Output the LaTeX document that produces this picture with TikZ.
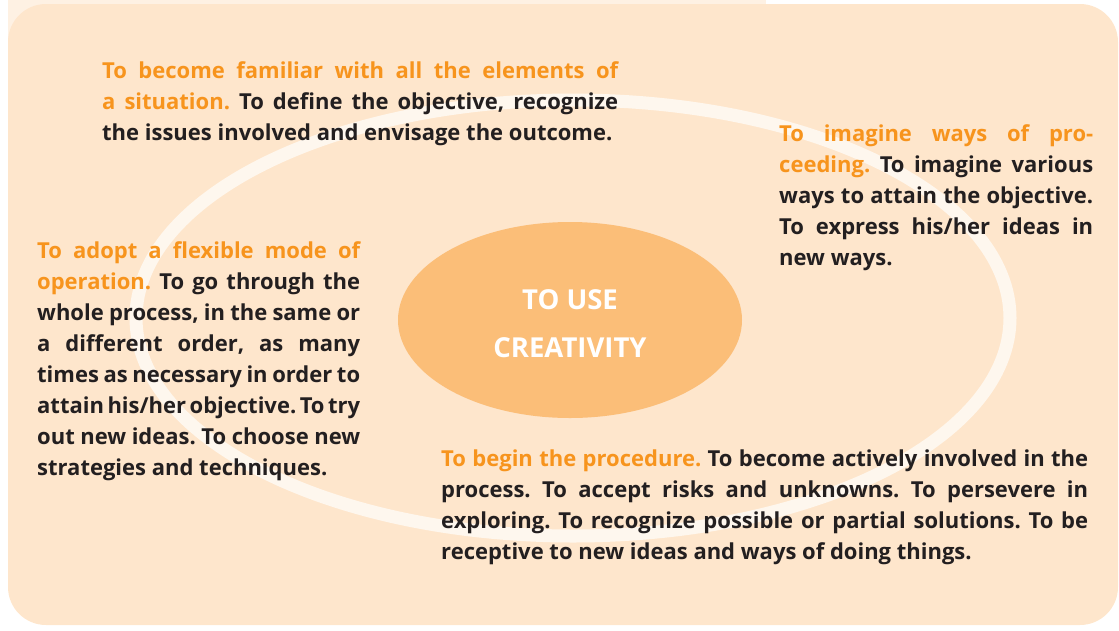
\documentclass[tikz,border=0pt]{standalone}
\usepackage{fontspec}
\setmainfont{Open Sans}
\usetikzlibrary{shapes.geometric, positioning}
\definecolor{myorange}{HTML}{F7941D}
\definecolor{mypeach}{HTML}{FEE6CC}
\definecolor{mypale}{HTML}{FEF1E3}
\definecolor{myring}{HTML}{FEF7EE}
\definecolor{myblob}{HTML}{FBBE78}
\definecolor{mydark}{HTML}{231F20}
\newcommand{\hd}[1]{\textcolor{myorange}{#1}}
\newcommand{\tightsp}{\spaceskip=0.26em plus 0.5em minus 0.12em\relax}
\hbadness=10000
\frenchspacing
\tikzset{
   mytext/.style={anchor=north west, inner sep=0pt, text=mydark, align=justify,
      font=\fontsize{22}{31}\selectfont\bfseries, execute at begin node=\tightsp},
   myblob/.style={ellipse, fill=myblob, minimum width=344pt, minimum height=196pt, inner sep=0pt},
   mylabel/.style={text=white, align=center, inner sep=0pt, font=\fontsize{27.5}{48}\selectfont\bfseries},
   myring/.style={draw=myring, line width=13pt}
}
\begin{document}
\begin{tikzpicture}[x=1pt, y=-1pt]
      \useasboundingbox (0,0) rectangle (1119,630);
      % background
      \fill[mypale] (8,0) rectangle (766,40);
      \fill[mypeach, rounded corners=38pt] (8,4) rectangle (1118,625);
      \draw[myring] (573,318) ellipse [x radius=437, y radius=218];
      % centre
      \node[myblob] (creativity) at (570,320) {};
      \node[mylabel, yshift=-4pt] (creativitytext) at (creativity.center) {TO USE\\CREATIVITY};
      % the four steps
      \node[mytext, text width=516pt] (familiar) at (102,61) {\hd{To become familiar with all the elements of}\linebreak
         \hd{a situation.} To define the objective, recognize\linebreak
         the issues involved and envisage the outcome.};
      \node[mytext, text width=314pt] (imagine) at (779,124) {\hd{To imagine ways of pro-}\linebreak
         \hd{ceeding.} To imagine various\linebreak
         ways to attain the objective.\linebreak
         To express his/her ideas in\linebreak
         new ways.};
      \node[mytext, text width=323pt] (adopt) at (37,241) {\hd{To adopt a flexible mode of}\linebreak
         \hd{operation.} To go through the\linebreak
         whole process, in the same or\linebreak
         a different order, as many\linebreak
         times as necessary in order to\linebreak
         attain his/her objective. To try\linebreak
         out new ideas. To choose new\linebreak
         strategies and techniques.};
      \node[mytext, text width=647pt] (begin) at (441,450) {\hd{To begin the procedure.} To become actively involved in the\linebreak
         process. To accept risks and unknowns. To persevere in\linebreak
         exploring. To recognize possible or partial solutions. To be\linebreak
         receptive to new ideas and ways of doing things.};
\end{tikzpicture}
\end{document}
